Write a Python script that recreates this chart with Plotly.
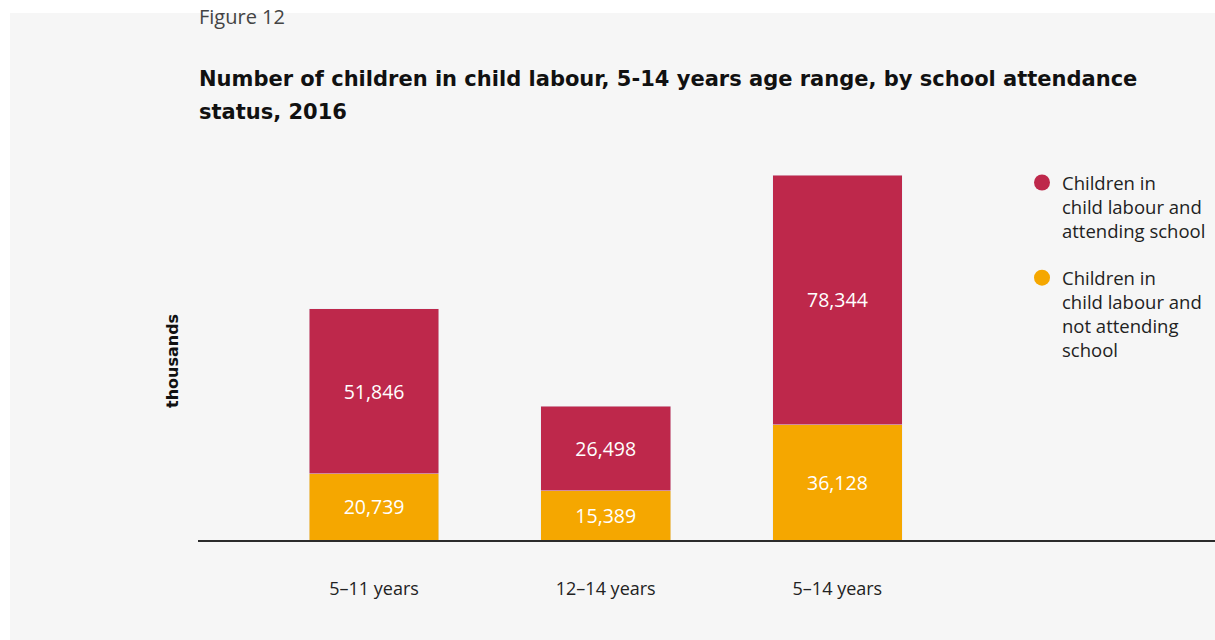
import plotly.graph_objects as go

categories = ["5–11 years", "12–14 years", "5–14 years"]
not_attending = [20739, 15389, 36128]
attending = [51846, 26498, 78344]
series_names = ["Children in<br>child labour and<br>attending school",
                "Children in<br>child labour and<br>not attending<br>school"]
title_lines = ["Number of children in child labour, 5-14 years age range, by school attendance",
               "status, 2016"]

RED = "#BE284B"
ORANGE = "#F5A700"
BG = "#F6F6F6"
FONT = "Open Sans, sans-serif"
WIDE = "DejaVu Sans, sans-serif"

W, H = 1215, 640
L, R, T, B = 198, 0, 140, 100
PW, PH = W - L - R, H - T - B

def px_x(x):
    return (x - L) / PW

def px_y(y):
    return (H - B - y) / PH

fig = go.Figure()
fig.add_trace(go.Bar(
    x=categories, y=not_attending, marker_color=ORANGE, width=0.56,
    texttemplate="%{y:,}", textposition="inside", insidetextanchor="middle",
    textfont=dict(color="white", size=19.5, family=FONT), textangle=0,
    showlegend=False, hoverinfo="skip"))
fig.add_trace(go.Bar(
    x=categories, y=attending, marker_color=RED, width=0.56,
    texttemplate="%{y:,}", textposition="inside", insidetextanchor="middle",
    textfont=dict(color="white", size=19.5, family=FONT), textangle=0,
    showlegend=False, hoverinfo="skip"))

# legend entries with circle markers
fig.add_trace(go.Scatter(x=[None], y=[None], mode="markers", name=series_names[0],
                         marker=dict(color=RED, size=18, symbol="circle"),
                         legendgroup="a", showlegend=True))
fig.add_trace(go.Scatter(x=[None], y=[None], mode="markers", name=series_names[1],
                         marker=dict(color=ORANGE, size=18, symbol="circle"),
                         legendgroup="b", showlegend=True))

scale = 365 / 114472.0
ymax = PH / scale

annotations = [
    dict(text="Figure 12", xref="paper", yref="paper", x=px_x(197), y=px_y(1),
         xanchor="left", yanchor="top", showarrow=False,
         font=dict(size=20, family=FONT, color="#444444")),
    dict(text="<b>thousands</b>", xref="paper", yref="paper", x=px_x(172), y=px_y(361),
         xanchor="center", yanchor="middle", textangle=-90, showarrow=False,
         font=dict(size=16, family=WIDE, color="#111111")),
]
for i, line in enumerate(title_lines):
    annotations.append(dict(
        text="<b>" + line + "</b>", xref="paper", yref="paper",
        x=px_x(197), y=px_y(79 + 33 * i), xanchor="left", yanchor="middle",
        align="left", showarrow=False,
        font=dict(size=21, family=WIDE, color="#111111")))

fig.update_layout(
    width=W, height=H,
    margin=dict(l=L, r=R, t=T, b=B),
    paper_bgcolor="white", plot_bgcolor="rgba(0,0,0,0)",
    barmode="stack",
    font=dict(family=FONT, color="#222222"),
    xaxis=dict(range=[-0.76, 3.63], showline=True, linecolor="#2b2b2b", linewidth=1.5,
               showgrid=False, zeroline=False, ticks="", ticklabelstandoff=32,
               tickfont=dict(size=18, family=FONT, color="#222222"), fixedrange=True),
    yaxis=dict(range=[0, ymax], visible=False, fixedrange=True),
    legend=dict(x=px_x(1022), y=px_y(164), xanchor="left", yanchor="top",
                bgcolor="rgba(0,0,0,0)", font=dict(size=18.5, family=FONT, color="#222222"),
                valign="top", traceorder="grouped", tracegroupgap=20,
                itemwidth=30),
    shapes=[dict(type="rect", xref="paper", yref="paper",
                 x0=px_x(10), x1=px_x(1215), y0=px_y(640), y1=px_y(13),
                 fillcolor=BG, line=dict(width=0), layer="below")],
    annotations=annotations,
)

fig.write_html("out.html", config={"displayModeBar": False},
               post_script="document.body.style.margin='0px';")
